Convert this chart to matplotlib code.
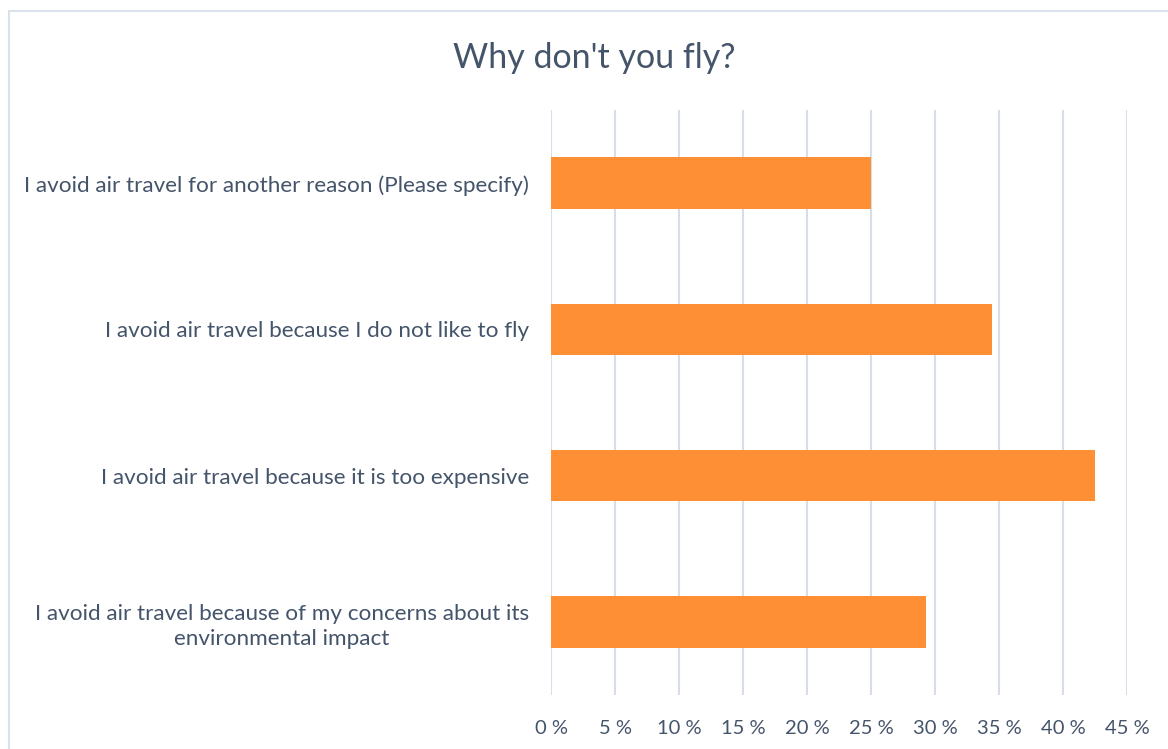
import matplotlib
matplotlib.use("Agg")
import matplotlib.pyplot as plt
import matplotlib.patches as patches
from matplotlib.ticker import MultipleLocator, FuncFormatter

# survey answers, listed bottom to top as barh draws them
reasons = [
    "I avoid air travel because of my concerns about its\nenvironmental impact",
    "I avoid air travel because it is too expensive",
    "I avoid air travel because I do not like to fly",
    "I avoid air travel for another reason (Please specify)",
]
shares = [0.2925, 0.4245, 0.3445, 0.25]  # fraction of respondents

title = "Why don't you fly?"
text_col = "#44546a"
bar_col = "#fe8f35"
grid_col = "#d7dee9"

plt.rcParams["font.family"] = ["Lato", "DejaVu Sans"]

fig = plt.figure(figsize=(11.68, 7.49), dpi=100)
ax = fig.add_axes([0.472, 0.0721, 0.4933, 0.7809])

pos = range(len(reasons))
ax.barh(pos, shares, height=0.353, color=bar_col, zorder=3)

ax.set_xlim(0, 0.45)
ax.set_ylim(-0.5, len(reasons) - 0.5)
ax.xaxis.set_major_locator(MultipleLocator(0.05))
ax.xaxis.set_major_formatter(FuncFormatter(lambda v, p: f"{round(v * 100)} %"))
ax.set_yticks(list(pos))
ax.set_yticklabels(reasons, multialignment="center", linespacing=1.35, fontsize=16.2)

ax.grid(axis="x", color=grid_col, linewidth=1.5, zorder=0)
for s in ax.spines.values():
    s.set_visible(False)
ax.tick_params(axis="both", length=0, colors=text_col)
ax.tick_params(axis="x", pad=18, labelsize=14.5)
ax.tick_params(axis="y", pad=16)

fig.text(0.5086, 0.923, title, ha="center", va="center", fontsize=24.5, color=text_col)

# thin frame round the chart area
frame = patches.Rectangle((9 / 1168, -0.05), 1.1, 0.05 + 1 - 11 / 749,
                          transform=fig.transFigure, fill=False,
                          edgecolor="#d9e1ea", linewidth=1.5, clip_on=False)
fig.patches.append(frame)

fig.savefig("out.png", dpi=100)
